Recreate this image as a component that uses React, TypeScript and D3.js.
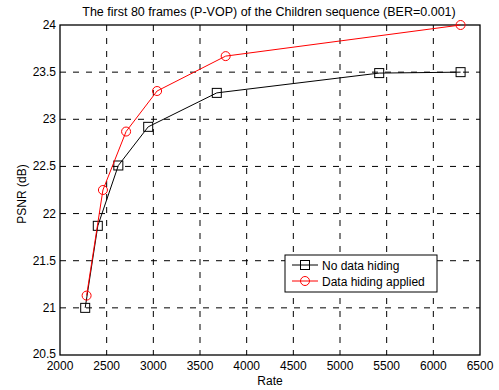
import React from "react";
import * as d3 from "d3";

const title = "The first 80 frames (P-VOP) of the Children sequence (BER=0.001)";
const xTicks = [2000, 2500, 3000, 3500, 4000, 4500, 5000, 5500, 6000, 6500];
const yTicks = [20.5, 21, 21.5, 22, 22.5, 23, 23.5, 24];
const noHidingRate = [2270, 2405, 2625, 2945, 3680, 5420, 6292];
const noHidingPsnr = [21.0, 21.87, 22.51, 22.92, 23.28, 23.49, 23.5];
const hidingRate = [2285, 2460, 2708, 3040, 3775, 6292];
const hidingPsnr = [21.13, 22.25, 22.87, 23.3, 23.67, 24.0];

const W = 499, H = 390;
const L = 60, R = 480, T = 25, B = 355;

export default function App() {
  const x = d3.scaleLinear().domain([2000, 6500]).range([L, R]);
  const y = d3.scaleLinear().domain([20.5, 24]).range([B, T]);
  const line = d3.line<[number, number]>().x(d => x(d[0])).y(d => y(d[1]));
  const black = noHidingRate.map((r, i) => [r, noHidingPsnr[i]] as [number, number]);
  const red = hidingRate.map((r, i) => [r, hidingPsnr[i]] as [number, number]);
  const font = "Liberation Sans, Arial, sans-serif";
  return (
    <svg width={W} height={H} style={{ position: "absolute", left: 0, top: 0, background: "#fff" }} fontFamily={font}>
      <rect x={0} y={0} width={W} height={H} fill="#fff" />
      {/* grid */}
      {xTicks.slice(1, -1).map(t => (
        <line key={"gx" + t} x1={x(t)} x2={x(t)} y1={T} y2={B} stroke="#000" strokeWidth={1} strokeDasharray="6,7" />
      ))}
      {yTicks.slice(1, -1).map(t => (
        <line key={"gy" + t} x1={L} x2={R} y1={y(t)} y2={y(t)} stroke="#000" strokeWidth={1} strokeDasharray="6,7" />
      ))}
      <rect x={L} y={T} width={R - L} height={B - T} fill="none" stroke="#000" strokeWidth={1.3} />
      {xTicks.map(t => (
        <text key={"xt" + t} x={x(t)} y={B + 14.5} fontSize={12} textAnchor="middle">{t}</text>
      ))}
      {yTicks.map(t => (
        <text key={"yt" + t} x={L - 4} y={y(t) + (t === 20.5 ? 3 : 4)} fontSize={12} textAnchor="end">{t}</text>
      ))}
      <text x={(L + R) / 2} y={385} fontSize={12} textAnchor="middle">Rate</text>
      <text transform={`translate(26,${(T + B) / 2 + 4}) rotate(-90)`} fontSize={12} textAnchor="middle">PSNR (dB)</text>
      <text x={269} y={16} fontSize={12.5} textAnchor="middle">{title}</text>
      {/* series */}
      <path d={line(black) || ""} fill="none" stroke="#000" strokeWidth={1} />
      {black.map((d, i) => (
        <rect key={"b" + i} x={x(d[0]) - 4.5} y={y(d[1]) - 4.5} width={9} height={9} fill="none" stroke="#000" strokeWidth={1} />
      ))}
      <path d={line(red) || ""} fill="none" stroke="#f00" strokeWidth={1} />
      {red.map((d, i) => (
        <circle key={"r" + i} cx={x(d[0])} cy={y(d[1])} r={4.5} fill="none" stroke="#f00" strokeWidth={1} />
      ))}
      {/* legend */}
      <rect x={285} y={255} width={152} height={37} fill="#fff" stroke="#000" strokeWidth={1} />
      <line x1={292} x2={318} y1={265} y2={265} stroke="#000" />
      <rect x={300.5} y={260.5} width={9} height={9} fill="none" stroke="#000" />
      <text x={322} y={269.5} fontSize={12}>No data hiding</text>
      <line x1={292} x2={318} y1={281} y2={281} stroke="#f00" />
      <circle cx={305} cy={281} r={4.5} fill="none" stroke="#f00" />
      <text x={322} y={285.5} fontSize={12}>Data hiding applied</text>
    </svg>
  );
}
